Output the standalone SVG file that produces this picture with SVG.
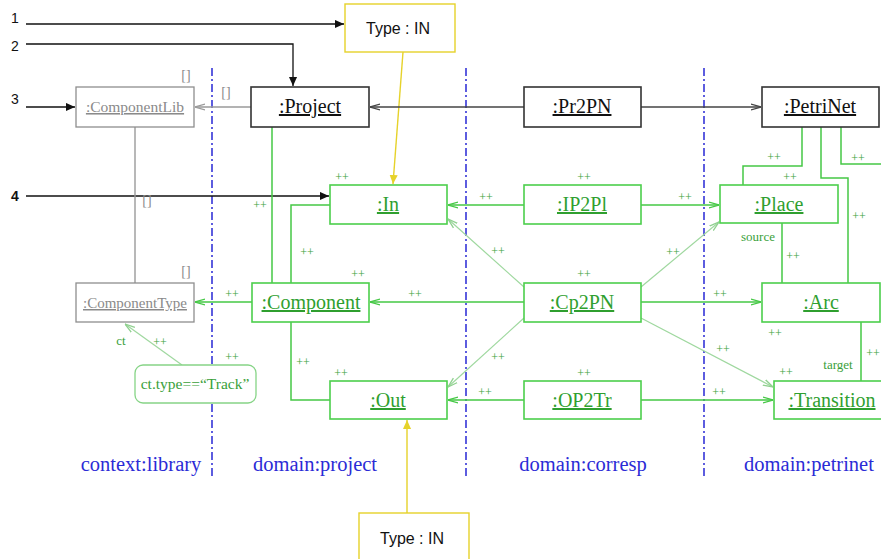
<svg xmlns="http://www.w3.org/2000/svg" width="881" height="559" viewBox="0 0 881 559">
  <style>
    .lbl { font-family: "Liberation Serif", "Times New Roman", serif; font-size: 20px; text-anchor: middle; text-decoration: underline; }
    .box { fill: #fff; stroke-width: 1.6; }
    .dark .box { stroke: #333; }
    .dark .lbl { fill: #111; }
    .grey .box { stroke: #8e8e8e; stroke-width: 1.3; }
    .grey .lbl { fill: #8a8a8a; font-size: 15.5px; }
    .green .box { stroke: #4ccf4c; }
    .green .lbl { fill: #2f9f2f; }
    .mult { font-family: "Liberation Serif", serif; font-size: 12px; fill: #3a9f3a; text-anchor: middle; }
    .brk { font-family: "Liberation Serif", serif; font-size: 14px; fill: #8a8a8a; text-anchor: middle; }
    .role { font-family: "Liberation Serif", serif; font-size: 13px; fill: #3a9f3a; text-anchor: middle; }
    .dom { font-family: "Liberation Serif", serif; font-size: 20.5px; fill: #2b2bd6; text-anchor: middle; }
    .num { font-family: "Liberation Sans", Arial, sans-serif; font-size: 14px; fill: #111; }
    .note { font-family: "Liberation Sans", Arial, sans-serif; font-size: 16px; fill: #111; text-anchor: middle; }
    .sep { stroke: #3535d8; stroke-width: 1.6; stroke-dasharray: 8 3 2 3; fill: none; }
    .c-black { stroke: #111; stroke-width: 1.3; fill: none; marker-end: url(#ah-black); }
    .c-dark { stroke: #444; stroke-width: 1.5; fill: none; marker-end: url(#ah-dark); }
    .c-grey { stroke: #9a9a9a; stroke-width: 1.4; fill: none; }
    .c-green { stroke: #45c845; stroke-width: 1.5; fill: none; }
    .c-light { stroke: #9fd89f; stroke-width: 1.2; fill: none; marker-end: url(#ah-light); }
    .c-yellow { stroke: #e6d22a; stroke-width: 1.4; fill: none; marker-end: url(#ah-yellow); }
    .arr-g { marker-end: url(#ah-green); }
    .arr-grey { marker-end: url(#ah-grey); }
  </style>
  <defs>
    <marker id="ah-black" viewBox="0 0 10 10" refX="10" refY="5" markerWidth="9" markerHeight="9" orient="auto" markerUnits="userSpaceOnUse">
      <path d="M0,0.5 L10,5 L0,9.5 z" fill="#111"/>
    </marker>
    <marker id="ah-dark" viewBox="0 0 10 10" refX="10" refY="5" markerWidth="10" markerHeight="10" orient="auto" markerUnits="userSpaceOnUse">
      <path d="M0,2 L10,5 L0,8" fill="none" stroke="#444" stroke-width="1.3"/>
    </marker>
    <marker id="ah-grey" viewBox="0 0 10 10" refX="10" refY="5" markerWidth="10" markerHeight="10" orient="auto" markerUnits="userSpaceOnUse">
      <path d="M0,2 L10,5 L0,8" fill="none" stroke="#9a9a9a" stroke-width="1.3"/>
    </marker>
    <marker id="ah-green" viewBox="0 0 10 10" refX="10" refY="5" markerWidth="10" markerHeight="10" orient="auto" markerUnits="userSpaceOnUse">
      <path d="M0,2 L10,5 L0,8" fill="none" stroke="#45c845" stroke-width="1.3"/>
    </marker>
    <marker id="ah-light" viewBox="0 0 10 10" refX="10" refY="5" markerWidth="10" markerHeight="10" orient="auto" markerUnits="userSpaceOnUse">
      <path d="M0,2 L10,5 L0,8" fill="none" stroke="#8fd08f" stroke-width="1.3"/>
    </marker>
    <marker id="ah-yellow" viewBox="0 0 10 10" refX="10" refY="5" markerWidth="9" markerHeight="9" orient="auto" markerUnits="userSpaceOnUse">
      <path d="M0,0.5 L10,5 L0,9.5 z" fill="#e6d22a"/>
    </marker>
  </defs>

  <rect width="881" height="559" fill="#fff"/>

  <!-- domain separators -->
  <g id="separators">
    <line class="sep" x1="212" y1="68" x2="212" y2="478"/>
    <line class="sep" x1="466" y1="68" x2="466" y2="478"/>
    <line class="sep" x1="704" y1="68" x2="704" y2="478"/>
  </g>

  <!-- connectors -->
  <g id="connectors">
    <!-- numbered pointers -->
    <path class="c-black" d="M26,24 H344"/>
    <path class="c-black" d="M26,44 H293 V86"/>
    <path class="c-black" d="M26,107 H75"/>
    <path class="c-black" d="M26,196 H329"/>
    <!-- type notes -->
    <path class="c-yellow" d="M403,52 L393,184"/>
    <path class="c-yellow" d="M407,513 V420"/>
    <!-- context links -->
    <path class="c-grey arr-grey" d="M251,107 H195"/>
    <path class="c-grey" d="M135,127 V283"/>
    <!-- top-level correspondence -->
    <path class="c-dark" d="M524,107 H370"/>
    <path class="c-dark" d="M641,107 H761"/>
    <!-- project domain -->
    <path class="c-green" d="M272,127 V283"/>
    <path class="c-green" d="M291,283 V205 H330"/>
    <path class="c-green" d="M291,322 V400 H330"/>
    <path class="c-green arr-g" d="M252,302 H195"/>
    <!-- correspondence to project -->
    <path class="c-green arr-g" d="M524,205 H448"/>
    <path class="c-green arr-g" d="M524,302 H370"/>
    <path class="c-green arr-g" d="M524,400 H448"/>
    <!-- correspondence to petrinet -->
    <path class="c-green arr-g" d="M641,205 H719"/>
    <path class="c-green arr-g" d="M641,302 H761"/>
    <path class="c-green arr-g" d="M641,400 H773"/>
    <!-- diagonal links -->
    <path class="c-light" d="M524,287 L448,219"/>
    <path class="c-light" d="M524,318 L448,387"/>
    <path class="c-light" d="M641,287 L719,222"/>
    <path class="c-light" d="M641,318 L773,387"/>
    <path class="c-light" d="M182,365 L125,324"/>
    <!-- petrinet domain -->
    <path class="c-green" d="M782,223 V283"/>
    <path class="c-green" d="M861,322 V381"/>
    <path class="c-green" d="M802,127 V166 H743 V185"/>
    <path class="c-green" d="M821,127 V178 H848 V283"/>
    <path class="c-green" d="M841,127 V164 H882"/>
  </g>

  <!-- multiplicity and role labels -->
  <g id="labels">
    <text class="brk" x="186" y="80">[]</text>
    <text class="brk" x="226" y="97">[]</text>
    <text class="brk" x="147" y="205">[]</text>
    <text class="brk" x="186" y="276">[]</text>

    <text class="mult" x="260" y="209">++</text>
    <text class="mult" x="307" y="256">++</text>
    <text class="mult" x="342" y="181">++</text>
    <text class="mult" x="358" y="278">++</text>
    <text class="mult" x="303" y="366">++</text>
    <text class="mult" x="341" y="377">++</text>
    <text class="mult" x="232" y="298">++</text>
    <text class="mult" x="232" y="361">++</text>
    <text class="mult" x="160" y="346">++</text>
    <text class="role" x="121" y="345">ct</text>

    <text class="mult" x="486" y="201">++</text>
    <text class="mult" x="584" y="181">++</text>
    <text class="mult" x="415" y="298">++</text>
    <text class="mult" x="584" y="278">++</text>
    <text class="mult" x="498" y="255">++</text>
    <text class="mult" x="498" y="361">++</text>
    <text class="mult" x="485" y="396">++</text>
    <text class="mult" x="584" y="377">++</text>

    <text class="mult" x="685" y="201">++</text>
    <text class="mult" x="673" y="256">++</text>
    <text class="mult" x="720" y="298">++</text>
    <text class="mult" x="723" y="353">++</text>
    <text class="mult" x="719" y="396">++</text>
    <text class="mult" x="786" y="376">++</text>
    <text class="mult" x="774" y="161">++</text>
    <text class="mult" x="790" y="181">++</text>
    <text class="mult" x="858" y="162">++</text>
    <text class="mult" x="859" y="220">++</text>
    <text class="mult" x="793" y="260">++</text>
    <text class="mult" x="775" y="337">++</text>
    <text class="mult" x="873" y="357">++</text>
    <text class="role" x="758" y="241">source</text>
    <text class="role" x="838" y="369">target</text>
  </g>

  <!-- pointer numbers -->
  <g id="numbers">
    <text class="num" x="11" y="23">1</text>
    <text class="num" x="11" y="51">2</text>
    <text class="num" x="11" y="104">3</text>
    <text class="num" x="11" y="201" font-weight="bold">4</text>
  </g>

  <!-- type notes -->
  <g id="note-in">
    <rect x="345" y="4" width="110" height="48" fill="#fff" stroke="#e6d22a" stroke-width="1.4"/>
    <text class="note" x="398" y="34">Type : IN</text>
  </g>
  <g id="note-out">
    <rect x="359" y="513" width="110" height="60" fill="#fff" stroke="#e6d22a" stroke-width="1.4"/>
    <text class="note" x="412" y="544">Type : IN</text>
  </g>

  <!-- context: library -->
  <g id="componentlib" class="grey">
    <rect class="box" x="76" y="87" width="118" height="40"/>
    <text class="lbl" x="135" y="112">:ComponentLib</text>
  </g>
  <g id="componenttype" class="grey">
    <rect class="box" x="76" y="283" width="118" height="39"/>
    <text class="lbl" x="135" y="308" style="font-size:15px">:ComponentType</text>
  </g>
  <g id="constraint">
    <rect x="135" y="365" width="121" height="38" rx="8" fill="#fff" stroke="#86d486" stroke-width="1.3"/>
    <text x="195" y="389" font-family="Liberation Serif, serif" font-size="15.5" fill="#3a9f3a" text-anchor="middle">ct.type==“Track”</text>
  </g>

  <!-- domain: project -->
  <g id="project" class="dark">
    <rect class="box" x="251" y="87" width="118" height="40"/>
    <text class="lbl" x="310" y="113">:Project</text>
  </g>
  <g id="in" class="green">
    <rect class="box" x="330" y="185" width="117" height="39"/>
    <text class="lbl" x="388" y="211">:In</text>
  </g>
  <g id="component" class="green">
    <rect class="box" x="252" y="283" width="117" height="39"/>
    <text class="lbl" x="311" y="309">:Component</text>
  </g>
  <g id="out" class="green">
    <rect class="box" x="330" y="381" width="117" height="38"/>
    <text class="lbl" x="388" y="407">:Out</text>
  </g>

  <!-- domain: corresp -->
  <g id="pr2pn" class="dark">
    <rect class="box" x="524" y="87" width="117" height="40"/>
    <text class="lbl" x="582" y="113">:Pr2PN</text>
  </g>
  <g id="ip2pl" class="green">
    <rect class="box" x="524" y="185" width="117" height="39"/>
    <text class="lbl" x="582" y="211">:IP2Pl</text>
  </g>
  <g id="cp2pn" class="green">
    <rect class="box" x="524" y="283" width="117" height="39"/>
    <text class="lbl" x="582" y="309">:Cp2PN</text>
  </g>
  <g id="op2tr" class="green">
    <rect class="box" x="524" y="381" width="117" height="38"/>
    <text class="lbl" x="582" y="407">:OP2Tr</text>
  </g>

  <!-- domain: petrinet -->
  <g id="petrinet" class="dark">
    <rect class="box" x="762" y="87" width="117" height="40"/>
    <text class="lbl" x="820" y="113">:PetriNet</text>
  </g>
  <g id="place" class="green">
    <rect class="box" x="720" y="185" width="118" height="38"/>
    <text class="lbl" x="779" y="211">:Place</text>
  </g>
  <g id="arc" class="green">
    <rect class="box" x="762" y="283" width="118" height="39"/>
    <text class="lbl" x="821" y="309">:Arc</text>
  </g>
  <g id="transition" class="green">
    <rect class="box" x="774" y="381" width="118" height="38"/>
    <text class="lbl" x="832" y="407">:Transition</text>
  </g>

  <!-- domain titles -->
  <g id="domains">
    <text class="dom" x="141" y="471">context:library</text>
    <text class="dom" x="315" y="471">domain:project</text>
    <text class="dom" x="583" y="471">domain:corresp</text>
    <text class="dom" x="809" y="471">domain:petrinet</text>
  </g>
</svg>
